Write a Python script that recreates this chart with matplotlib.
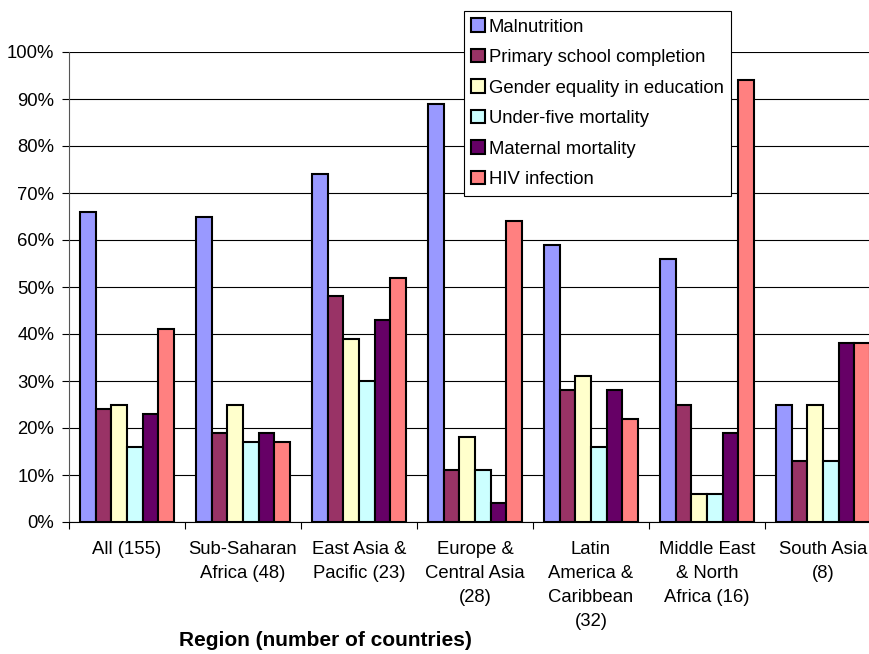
import numpy as np
import matplotlib
matplotlib.use('Agg')
import matplotlib.pyplot as plt
from matplotlib.ticker import FixedLocator, PercentFormatter

plt.rcParams['font.family'] = ['Liberation Sans', 'DejaVu Sans']

regions = ['All (155)', 'Sub-Saharan\nAfrica (48)', 'East Asia &\nPacific (23)',
           'Europe &\nCentral Asia\n(28)', 'Latin\nAmerica &\nCaribbean\n(32)',
           'Middle East\n& North\nAfrica (16)', 'South Asia\n(8)']

indicators = ['Malnutrition', 'Primary school completion',
              'Gender equality in education', 'Under-five mortality',
              'Maternal mortality', 'HIV infection']

malnutrition = [66, 65, 74, 89, 59, 56, 25]
primary_school = [24, 19, 48, 11, 28, 25, 13]
gender_equality = [25, 25, 39, 18, 31, 6, 25]
under_five = [16, 17, 30, 11, 16, 6, 13]
maternal = [23, 19, 43, 4, 28, 19, 38]
hiv = [41, 17, 52, 64, 22, 94, 38]

series = [malnutrition, primary_school, gender_equality, under_five, maternal, hiv]
colors = ['#9999FF', '#993366', '#FFFFCC', '#CCFFFF', '#660066', '#FF8080']

FS = 13.3
W, H = 870, 654
fig = plt.figure(figsize=(W / 100, H / 100), dpi=100)
ax = fig.add_axes([69 / W, 132 / H, 812 / W, 470 / H])

n = len(series)
bw = 1 / (n + 1.4)
start = 0.7 * bw
for k, (vals, col) in enumerate(zip(series, colors)):
    x = np.arange(len(regions)) + start + k * bw
    ax.bar(x, vals, width=bw, align='edge', color=col, edgecolor='black',
           linewidth=1.5, label=indicators[k], zorder=3)

ax.set_xlim(0, len(regions))
ax.set_ylim(0, 100)
ax.set_yticks(np.arange(0, 101, 10))
ax.yaxis.set_major_formatter(PercentFormatter(decimals=0))
ax.yaxis.grid(True, color='black', linewidth=0.8, zorder=0)
ax.set_axisbelow(True)

ax.xaxis.set_major_locator(FixedLocator(np.arange(len(regions) + 1)))
ax.xaxis.set_minor_locator(FixedLocator(np.arange(len(regions)) + 0.5))
ax.set_xticklabels([], minor=False)
ax.set_xticklabels(regions, minor=True, linespacing=1.52, va='top')
ax.tick_params(axis='x', which='major', length=5, width=0.8, direction='out')
ax.tick_params(axis='x', which='minor', length=0, pad=14, labelsize=FS)
ax.tick_params(axis='y', length=5, width=0.8, pad=5.5, labelsize=FS)

for side in ('top', 'right'):
    ax.spines[side].set_visible(False)
ax.spines['left'].set_color('#555555')
ax.spines['bottom'].set_color('black')

fig.text(325 / W, 1 - 641 / H, 'Region (number of countries)', ha='center',
         va='center', fontsize=15, fontweight='bold')

leg = ax.legend(loc='upper left', bbox_to_anchor=(464 / W, 1 - 11 / H),
                bbox_transform=fig.transFigure, borderaxespad=0, fontsize=FS,
                frameon=True, fancybox=False, edgecolor='black', framealpha=1,
                handlelength=0.75, handleheight=0.75, handletextpad=0.2,
                labelspacing=0.72, borderpad=0.4)
leg.get_frame().set_linewidth(0.8)
leg.set_zorder(5)

fig.savefig('out.png', dpi=100)
